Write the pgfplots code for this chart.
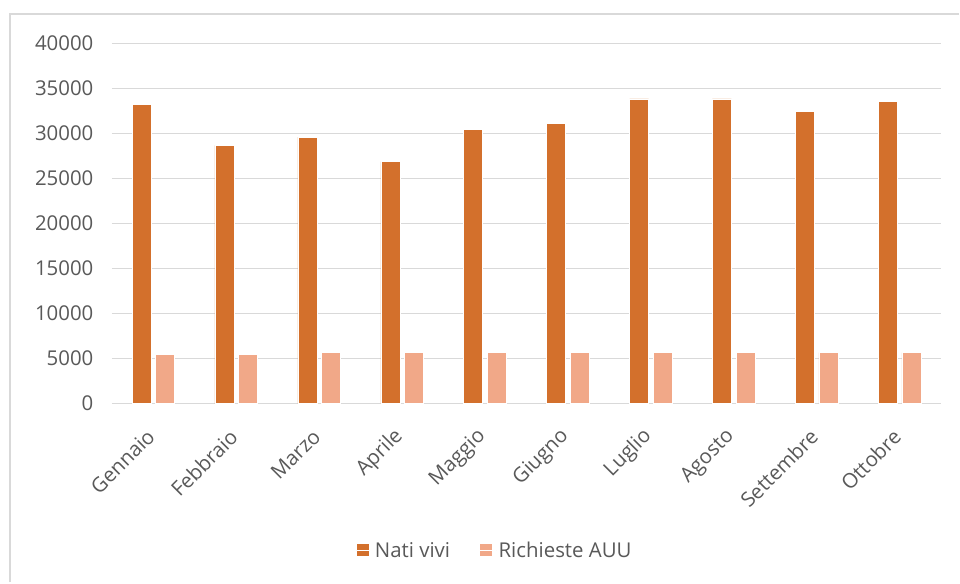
\documentclass[border=0pt]{standalone}
\usepackage{fontspec}
\setmainfont{Open Sans}
\usepackage{pgfplots}
\pgfplotsset{compat=1.18}
\definecolor{dk}{HTML}{D3702C}
\definecolor{lt}{HTML}{F1A888}
\definecolor{gr}{HTML}{D9D9D9}
\definecolor{tx}{HTML}{595959}
\begin{document}
\begin{tikzpicture}[x=1bp,y=1bp]
\path[fill=white] (0,0) rectangle (960,583);
\draw[gr, line width=2bp] (10,0) -- (10,569) -- (960,569);
\begin{axis}[
  at={(112bp,179bp)}, anchor=south west,
  scale only axis, width=830bp, height=360.3bp,
  xmin=-0.5, xmax=9.5, ymin=0, ymax=40000,
  ytick={0,5000,...,40000},
  xtick={0,...,9},
  xticklabels={Gennaio,Febbraio,Marzo,Aprile,Maggio,Giugno,Luglio,Agosto,Settembre,Ottobre},
  ymajorgrids, grid style={gr, line width=1.5bp},
  axis line style={draw=none}, tick style={draw=none},
  ybar, bar width=0.229,
  scaled y ticks=false,
  tick label style={text=tx, font=\fontsize{20.5}{24}\selectfont},
  yticklabel style={/pgf/number format/assume math mode=true, /pgf/number format/set thousands separator={}, xshift=-15bp},
  xticklabel style={xshift=0bp, yshift=-23bp, rotate=45, anchor=east},
  legend style={at={(0.462,-0.408)}, anchor=center, draw=none, legend columns=2, font=\fontsize{20.5}{24}\selectfont, text=tx,
    /tikz/every even column/.append style={column sep=28bp}},
  legend image code/.code={\fill[#1,draw=none] (0bp,-6bp) rectangle (12bp,6bp); \path (0bp,0bp) -- (16bp,0bp);},
]
\addplot[fill=dk, draw=white, line width=0.6bp, bar shift=-0.142] coordinates {
(0,33250) (1,28700) (2,29600) (3,26900) (4,30450) (5,31150) (6,33850) (7,33850) (8,32450) (9,33600)};
\addplot[fill=lt, draw=white, line width=0.6bp, bar shift=0.142] coordinates {
(0,5500) (1,5500) (2,5650) (3,5650) (4,5650) (5,5650) (6,5650) (7,5650) (8,5650) (9,5650)};
\legend{Nati vivi, Richieste AUU}
\end{axis}
\end{tikzpicture}
\end{document}
